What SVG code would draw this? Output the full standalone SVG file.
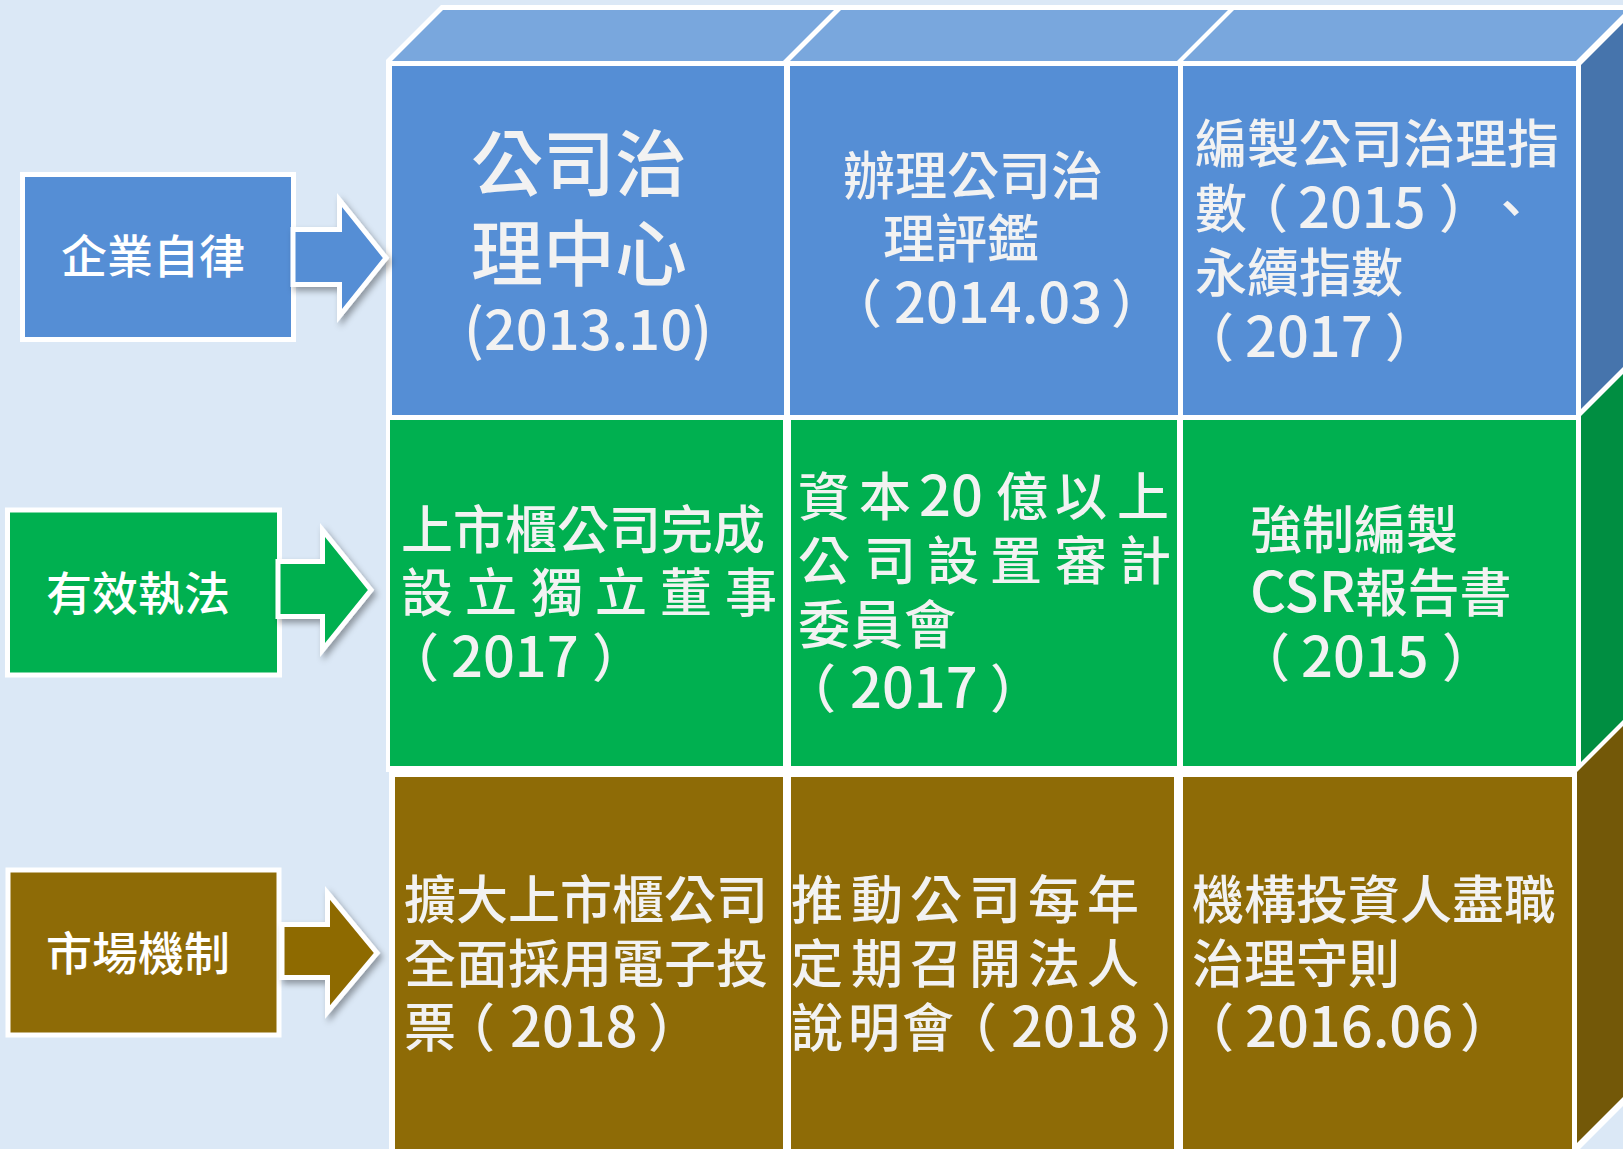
<svg xmlns="http://www.w3.org/2000/svg" width="1623" height="1149" viewBox="0 0 1623 1149">
<defs>
<style>
.t{font-family:"Noto Sans CJK TC","Noto Sans CJK SC",sans-serif;fill:#F2F2F2;font-size:52px;font-weight:500;}
.d{font-size:56px;}
.lbl{font-family:"Noto Sans CJK TC","Noto Sans CJK SC",sans-serif;fill:#FFFFFF;font-size:46px;font-weight:500;text-anchor:middle;}
.m{text-anchor:middle;}
.box{stroke:#FFFFFF;stroke-width:5;}
.arr{stroke:#FFFFFF;stroke-width:5;stroke-linejoin:miter;filter:url(#sh);}
.blue{fill:#558ED5;}
.green{fill:#00B050;}
.brown{fill:#8E6B06;}
</style>
<filter id="sh" x="-30%" y="-30%" width="170%" height="170%">
<feDropShadow dx="3" dy="4" stdDeviation="3" flood-color="#000000" flood-opacity="0.35"/>
</filter>
</defs>
<rect x="0" y="0" width="1623" height="1149" fill="#DBE8F6"/>
<g id="cube-frame">
<polygon points="389,1149 389,772 386,772 386,60 441,5 1623,5 1623,1106 1580,1149" fill="#FFFFFF"/>
<polygon points="392,61 783,61 834,10 443,10" fill="#79A7DD"/>
<polygon points="790,61 1177,61 1228,10 841,10" fill="#79A7DD"/>
<polygon points="1183,61 1576,61 1623,14 1623,10 1234,10" fill="#79A7DD"/>
<polygon points="1581,65 1623,23 1623,367 1581,409" fill="#4674AC"/>
<polygon points="1581,416 1623,374 1623,720 1581,762" fill="#008E41"/>
<polygon points="1577,772 1623,726 1623,1097 1577,1143" fill="#735808"/>
</g>
<g id="cell-r1c1">
<rect class="blue" x="392" y="66" width="392" height="349"/>
<text class="t m" x="579" y="190" style="font-size:72px">公司治</text>
<text class="t m" x="579" y="280" style="font-size:72px">理中心</text>
<text class="t m" x="588" y="350" style="font-size:56px">(2013.10)</text>
</g>
<g id="cell-r1c2">
<rect class="blue" x="790" y="66" width="388" height="349"/>
<text class="t" x="843" y="195">辦理公司治</text>
<text class="t" x="883" y="258">理評鑑</text>
<text class="t" y="323"><tspan x="830">（</tspan><tspan x="894" class="d">2014.03</tspan><tspan x="1111">）</tspan></text>
</g>
<g id="cell-r1c3">
<rect class="blue" x="1183" y="66" width="393" height="349"/>
<text class="t" x="1195" y="163">編製公司治理指</text>
<text class="t" y="228"><tspan x="1195">數</tspan><tspan x="1236">（</tspan><tspan x="1298" class="d">2015</tspan><tspan x="1439">）</tspan><tspan x="1485">、</tspan></text>
<text class="t" x="1195" y="292">永續指數</text>
<text class="t" y="357"><tspan x="1182">（</tspan><tspan x="1245" class="d">2017</tspan><tspan x="1385">）</tspan></text>
</g>
<g id="cell-r2c1">
<rect class="green" x="390" y="420" width="393" height="346"/>
<text class="t" x="401" y="549">上市櫃公司完成</text>
<text class="t" x="401 465 531 595 660 725" y="612">設立獨立董事</text>
<text class="t" y="677"><tspan x="387">（</tspan><tspan x="451" class="d">2017</tspan><tspan x="592">）</tspan></text>
</g>
<g id="cell-r2c2">
<rect class="green" x="791" y="420" width="386" height="346"/>
<text class="t" y="516"><tspan x="798 859">資本</tspan><tspan class="d" x="919">20</tspan><tspan x="996 1055 1117">億以上</tspan></text>
<text class="t" x="798 864 927 990 1055 1119" y="580">公司設置審計</text>
<text class="t" x="798 851 904" y="644">委員會</text>
<text class="t" y="708"><tspan x="784">（</tspan><tspan x="850" class="d">2017</tspan><tspan x="990">）</tspan></text>
</g>
<g id="cell-r2c3">
<rect class="green" x="1183" y="420" width="393" height="346"/>
<text class="t" x="1250" y="549">強制編製</text>
<text class="t" x="1250" y="612"><tspan class="d">CSR</tspan>報告書</text>
<text class="t" y="677"><tspan x="1238">（</tspan><tspan x="1301" class="d">2015</tspan><tspan x="1442">）</tspan></text>
</g>
<g id="cell-r3c1">
<rect class="brown" x="395" y="777" width="388" height="380"/>
<text class="t" x="404" y="919">擴大上市櫃公司</text>
<text class="t" x="404" y="983">全面採用電子投</text>
<text class="t" y="1047"><tspan x="404">票</tspan><tspan x="443">（</tspan><tspan x="510" class="d">2018</tspan><tspan x="648">）</tspan></text>
</g>
<g id="cell-r3c2">
<rect class="brown" x="791" y="777" width="383" height="380"/>
<text class="t" x="791 851 910 969 1028 1087" y="919">推動公司每年</text>
<text class="t" x="791 851 910 969 1028 1087" y="983">定期召開法人</text>
<text class="t" y="1047"><tspan x="791 848 902">說明會</tspan><tspan x="945">（</tspan><tspan x="1011" class="d">2018</tspan><tspan x="1151">）</tspan></text>
</g>
<g id="cell-r3c3">
<rect class="brown" x="1183" y="777" width="389" height="380"/>
<text class="t" x="1192" y="919">機構投資人盡職</text>
<text class="t" x="1192" y="983">治理守則</text>
<text class="t" y="1047"><tspan x="1182">（</tspan><tspan x="1245" class="d">2016.06</tspan><tspan x="1460">）</tspan></text>
</g>
<g id="node-self-discipline">
<rect class="box blue" x="22.5" y="174.5" width="271" height="165"/>
<text class="lbl" x="153" y="273">企業自律</text>
</g>
<g id="node-enforcement">
<rect class="box green" x="7.5" y="510" width="272" height="165"/>
<text class="lbl" x="138" y="610">有效執法</text>
</g>
<g id="node-market">
<rect class="box brown" x="8" y="870" width="271" height="165"/>
<text class="lbl" x="138" y="970">市場機制</text>
</g>
<g id="connectors">
<polygon class="arr blue" points="293,229.5 339.5,229.5 339.5,200 386,258 339.5,316 339.5,284.5 293,284.5"/>
<polygon class="arr green" points="278,561.5 322.5,561.5 322.5,530 371,590 322.5,650 322.5,616.5 278,616.5"/>
<polygon class="arr brown" points="282,924.5 327.5,924.5 327.5,893 377,953 327.5,1012 327.5,977.5 282,977.5"/>
</g>
</svg>
